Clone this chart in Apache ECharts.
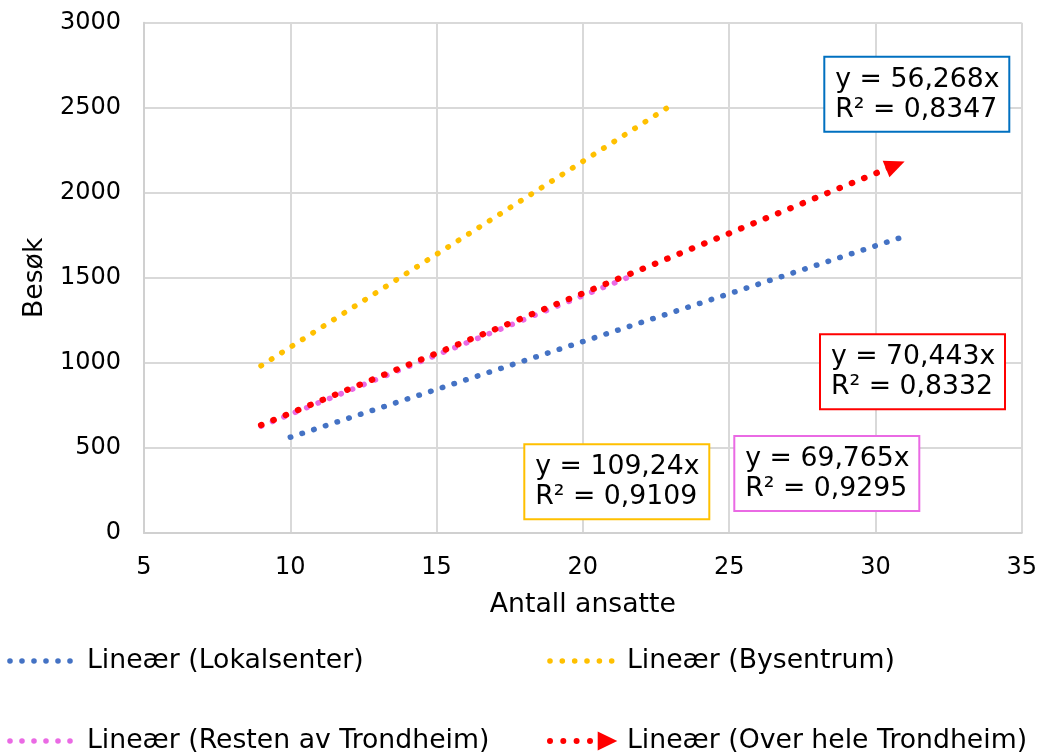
<!DOCTYPE html>
<html>
<head>
<meta charset="utf-8">
<script src="https://cdn.jsdelivr.net/npm/echarts@6/dist/echarts.min.js"></script>
<style>
  html, body { margin: 0; padding: 0; background: #fff; }
  #chart { width: 1040px; height: 756px; }
</style>
</head>
<body>
<div id="chart"></div>
<script>
// ---- data ----
const seriesNames = [
  'Lineær (Lokalsenter)',
  'Lineær (Bysentrum)',
  'Lineær (Resten av Trondheim)',
  'Lineær (Over hele Trondheim)'
];
const lokalsenterLine = [[10, 563], [30.8, 1733]];
const bysentrumLine = [[9, 983], [22.85, 2496]];
const restenLine = [[9, 628], [21.85, 1524]];
const heleLine = [[9, 634], [30.68, 2162]];
const equationTexts = [
  'y = 56,268x\nR² = 0,8347',
  'y = 109,24x\nR² = 0,9109',
  'y = 69,765x\nR² = 0,9295',
  'y = 70,443x\nR² = 0,8332'
];
const xAxisRange = [5, 35, 5];
const yAxisRange = [0, 3000, 500];
const xAxisTitle = 'Antall ansatte';
const yAxisTitle = 'Besøk';

// ---- styling ----
const colors = ['#4472C4', '#FFC000', '#EA6AE4', '#FF0000'];
const boxBorders = ['#0070C0', '#FFC000', '#EA6AE4', '#FF0000'];
const FONT = '"DejaVu Sans", Verdana, sans-serif';

function dotsPath(xs, cy, r, w, h, extra) {
  let p = '';
  xs.forEach(function (cx) {
    p += 'M' + (cx - r) + ' ' + cy + 'a' + r + ' ' + r + ' 0 1 0 ' + (2 * r) + ' 0a' + r + ' ' + r + ' 0 1 0 ' + (-2 * r) + ' 0Z';
  });
  if (extra) p += extra;
  // zero-area anchors to fix the bounding box to w x h
  p += 'M0 0L0 ' + h + 'L0 0Z M' + w + ' 0L' + w + ' ' + h + 'L' + w + ' 0Z';
  return 'path://' + p;
}
const IW = 77, IH = 20;
const iconBlue = dotsPath([5, 17, 29, 41, 53, 65], 10, 2.8, IW, IH);
const iconOrange = dotsPath([5, 17.3, 29.7, 42, 54.4, 66.7], 10, 2.8, IW, IH);
const iconPink = dotsPath([5, 17, 29, 41, 53, 65], 10, 2.8, IW, IH);
const iconRed = dotsPath([5, 18.3, 31.6, 45], 10, 3, IW, IH, 'M52.7 0.4L72.3 10L52.7 19.6Z');

const dotStyle = function (color, width, gap) {
  return { color: color, width: width, type: [0.5, gap], cap: 'round' };
};

const chartDom = document.getElementById('chart');
const chart = echarts.init(chartDom, null, { renderer: 'canvas' });

function box(i, left, top) {
  return {
    type: 'text',
    left: left,
    top: top,
    z: 100,
    style: {
      text: equationTexts[i],
      font: '26.7px ' + FONT,
      fill: '#000',
      lineHeight: 30,
      width: 164,
      padding: [7, 9, 6, 10],
      backgroundColor: '#fff',
      borderColor: boxBorders[i],
      borderWidth: 2
    }
  };
}

const legendText = { fontFamily: FONT, fontSize: 26.7, color: '#000', lineHeight: 30 };
const gridLine = { color: '#D9D9D9', width: 2 };

const option = {
  animation: false,
  backgroundColor: '#fff',
  grid: { left: 144, right: 18, top: 22.7, bottom: 223, containLabel: false },
  xAxis: {
    type: 'value',
    min: xAxisRange[0], max: xAxisRange[1], interval: xAxisRange[2],
    name: xAxisTitle,
    nameLocation: 'middle',
    nameGap: 59,
    nameTextStyle: { fontFamily: FONT, fontSize: 26.7, color: '#000' },
    axisLine: { show: true, lineStyle: { color: '#D0D0D0', width: 2 } },
    axisTick: { show: false },
    axisLabel: { fontFamily: FONT, fontSize: 24, color: '#000', margin: 23, formatter: function (v) { return String(v); } },
    splitLine: { show: true, lineStyle: gridLine }
  },
  yAxis: {
    type: 'value',
    min: yAxisRange[0], max: yAxisRange[1], interval: yAxisRange[2],
    name: yAxisTitle,
    nameLocation: 'middle',
    nameGap: 80,
    nameTextStyle: { fontFamily: FONT, fontSize: 26.7, color: '#000' },
    axisLine: { show: true, lineStyle: { color: '#D0D0D0', width: 2 } },
    axisTick: { show: false },
    axisLabel: { fontFamily: FONT, fontSize: 24, color: '#000', margin: 23, formatter: function (v) { return String(v); } },
    splitLine: { show: true, lineStyle: gridLine }
  },
  legend: [
    {
      orient: 'vertical', left: 5, top: 646, padding: 0, itemWidth: IW, itemHeight: IH, itemGap: 50,
      textStyle: legendText, itemStyle: { borderWidth: 0 },
      data: [
        { name: seriesNames[0], icon: iconBlue },
        { name: seriesNames[2], icon: iconPink }
      ]
    },
    {
      orient: 'vertical', left: 545, top: 646, padding: 0, itemWidth: IW, itemHeight: IH, itemGap: 50,
      textStyle: legendText, itemStyle: { borderWidth: 0 },
      data: [
        { name: seriesNames[1], icon: iconOrange },
        { name: seriesNames[3], icon: iconRed }
      ]
    }
  ],
  series: [
    {
      name: seriesNames[0], type: 'line', data: lokalsenterLine,
      symbol: 'none', color: colors[0],
      lineStyle: dotStyle(colors[0], 5.5, 11.8), z: 2
    },
    {
      name: seriesNames[1], type: 'line', data: bysentrumLine,
      symbol: 'none', color: colors[1],
      lineStyle: dotStyle(colors[1], 5.5, 11.8), z: 2
    },
    {
      name: seriesNames[2], type: 'line', data: restenLine,
      symbol: 'none', color: colors[2],
      lineStyle: dotStyle(colors[2], 5.5, 11.8), z: 3
    },
    {
      name: seriesNames[3], type: 'line',
      data: [
        heleLine[0],
        { value: heleLine[1], symbol: 'triangle', symbolSize: [18, 20], symbolRotate: -68 }
      ],
      symbol: 'none', showSymbol: true, color: colors[3],
      itemStyle: { color: colors[3], borderWidth: 0 },
      lineStyle: dotStyle(colors[3], 6.2, 12.8), z: 4
    }
  ],
  graphic: [
    box(0, 823.3, 55.7),
    box(3, 819, 333.3),
    box(1, 523.3, 443.3),
    box(2, 733.3, 435)
  ]
};
chart.setOption(option);
</script>
</body>
</html>
